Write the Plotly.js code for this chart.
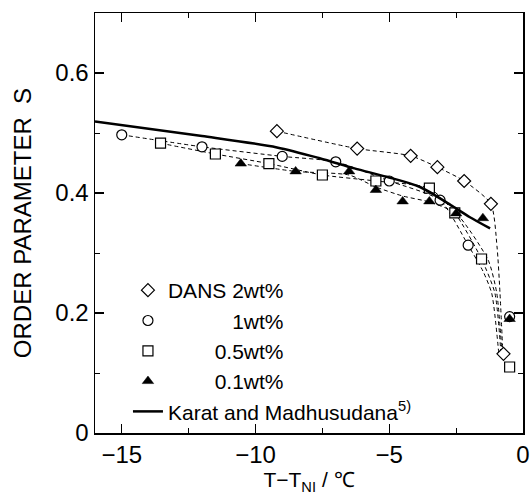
<!DOCTYPE html>
<html>
<head>
<meta charset="utf-8">
<script src="https://cdn.plot.ly/plotly-3.0.1.min.js"></script>
<style>html,body{margin:0;padding:0;background:#fff;}#chart{width:531px;height:499px;}</style>
</head>
<body>
<div id="chart"></div>
<script>
// Measured points (T - T_NI in degC, order parameter S)
const dans2_x = [-9.2, -6.2, -4.2, -3.2, -2.2, -1.2, -0.73];
const dans2_y = [0.503, 0.474, 0.462, 0.443, 0.42, 0.382, 0.132];
const w1_x = [-15, -12, -9, -7, -5, -3.1, -2.05, -0.5];
const w1_y = [0.497, 0.477, 0.461, 0.452, 0.42, 0.388, 0.313, 0.194];
const w05_x = [-13.55, -11.5, -9.5, -7.5, -5.5, -3.5, -2.55, -1.55, -0.5];
const w05_y = [0.483, 0.465, 0.449, 0.43, 0.42, 0.408, 0.367, 0.29, 0.11];
const w01_x = [-10.55, -8.5, -6.5, -5.5, -4.5, -3.5, -2.5, -1.5, -0.5];
const w01_y = [0.449, 0.436, 0.436, 0.405, 0.386, 0.386, 0.366, 0.358, 0.19];

// Dashed guide curves
const c2_x = [-9.2, -6.2, -4.2, -3.2, -2.2, -1.2, -0.97, -0.86, -0.75];
const c2_y = [0.503, 0.474, 0.462, 0.443, 0.42, 0.382, 0.31, 0.233, 0.13];
const c1_x = [-15, -12, -9, -7, -5, -3.1, -2.05, -1.5, -1.17, -0.9];
const c1_y = [0.497, 0.477, 0.461, 0.452, 0.42, 0.388, 0.313, 0.27, 0.233, 0.13];
const c05_x = [-13.55, -11.5, -9.5, -7.5, -5.5, -3.5, -2.55, -1.55, -1.05, -0.82];
const c05_y = [0.483, 0.465, 0.449, 0.43, 0.42, 0.408, 0.367, 0.29, 0.233, 0.13];
const c01_x = [-10.55, -8.5, -6.5, -5.5, -4.5, -3.5, -2.5, -1.3, -0.98, -0.78];
const c01_y = [0.449, 0.436, 0.43, 0.41, 0.395, 0.385, 0.366, 0.288, 0.233, 0.13];

// Karat and Madhusudana curve
const km_x = [-16, -12, -9.2, -7.6, -6.3, -5.1, -3.85, -2.6, -2.0, -1.23];
const km_y = [0.519, 0.495, 0.476, 0.458, 0.441, 0.427, 0.41, 0.377, 0.36, 0.341];

const xTicks = [-15, -10, -5, 0];
const xTickText = ['\u221215', '\u221210', '\u22125', '0'];
const yTicks = [0, 0.2, 0.4, 0.6];
const yTickText = ['0', '0.2', '0.4', '0.6'];

const names = ['DANS 2wt%', '\u00A0'.repeat(11) + '1wt%', '\u00A0'.repeat(8) + '0.5wt%', '\u00A0'.repeat(8) + '0.1wt%', 'Karat and Madhusudana<sup>5)</sup>'];

const dashLine = {color: '#000', width: 1, dash: '4px,3px', shape: 'spline', smoothing: 0.6};
const mline = {color: '#000', width: 1.2};

const traces = [
  {x: c2_x, y: c2_y, mode: 'lines', line: dashLine, showlegend: false, hoverinfo: 'skip'},
  {x: c1_x, y: c1_y, mode: 'lines', line: dashLine, showlegend: false, hoverinfo: 'skip'},
  {x: c05_x, y: c05_y, mode: 'lines', line: dashLine, showlegend: false, hoverinfo: 'skip'},
  {x: c01_x, y: c01_y, mode: 'lines', line: dashLine, showlegend: false, hoverinfo: 'skip'},
  {x: dans2_x, y: dans2_y, mode: 'markers', name: names[0], legendgroup: 'a',
   marker: {symbol: 'diamond', size: 10, color: '#fff', line: mline}},
  {x: w1_x, y: w1_y, mode: 'markers', name: names[1], legendgroup: 'b',
   marker: {symbol: 'circle', size: 10, color: '#fff', line: mline}},
  {x: w05_x, y: w05_y, mode: 'markers', name: names[2], legendgroup: 'c',
   marker: {symbol: 'square', size: 10, color: '#fff', line: mline}},
  {x: w01_x, y: w01_y, mode: 'markers', name: names[3], legendgroup: 'd',
   marker: {symbol: 'triangle-up', size: 10, color: '#000', line: {color: '#000', width: 0.5}}},
  {x: km_x, y: km_y, mode: 'lines', name: names[4], legendgroup: 'e',
   line: {color: '#000', width: 2.5, shape: 'spline', smoothing: 0.8}}
];

const axisCommon = {
  showline: true, linecolor: '#000', linewidth: 1.5, mirror: 'ticks',
  ticks: 'inside', ticklen: 9, tickwidth: 1.2, tickcolor: '#000',
  showgrid: false, zeroline: false,
  tickfont: {family: 'Arial, Liberation Sans, sans-serif', size: 24, color: '#000'}
};

const layout = {
  width: 531, height: 499,
  margin: {l: 95, r: 8, t: 13, b: 66},
  paper_bgcolor: '#fff', plot_bgcolor: '#fff',
  font: {family: 'Arial, Liberation Sans, sans-serif', color: '#000'},
  xaxis: Object.assign({}, axisCommon, {
    range: [-16, 0], tickmode: 'array', tickvals: xTicks, ticktext: xTickText,
    minor: {ticks: 'inside', ticklen: 5, tickwidth: 1, tickcolor: '#000', dtick: 2.5, tick0: 0, showgrid: false},
    title: {text: 'T\u2212T<sub>NI</sub> / \u2103', font: {size: 21, color: '#000'}, standoff: 3}
  }),
  yaxis: Object.assign({}, axisCommon, {
    range: [0, 0.7], tickmode: 'array', tickvals: yTicks, ticktext: yTickText,
    minor: {ticks: 'inside', ticklen: 5, tickwidth: 1, tickcolor: '#000', dtick: 0.1, tick0: 0, showgrid: false},
    title: {text: 'ORDER PARAMETER\u00A0\u00A0S', font: {size: 24, color: '#000'}, standoff: 17}
  }),
  legend: {
    x: 0.077, y: 0.388, xanchor: 'left', yanchor: 'top',
    bgcolor: 'rgba(0,0,0,0)', borderwidth: 0,
    font: {size: 21, color: '#000'}, tracegroupgap: 3, traceorder: 'normal'
  },
  showlegend: true
};

Plotly.newPlot('chart', traces, layout, {staticPlot: true, displayModeBar: false});
</script>
</body>
</html>
